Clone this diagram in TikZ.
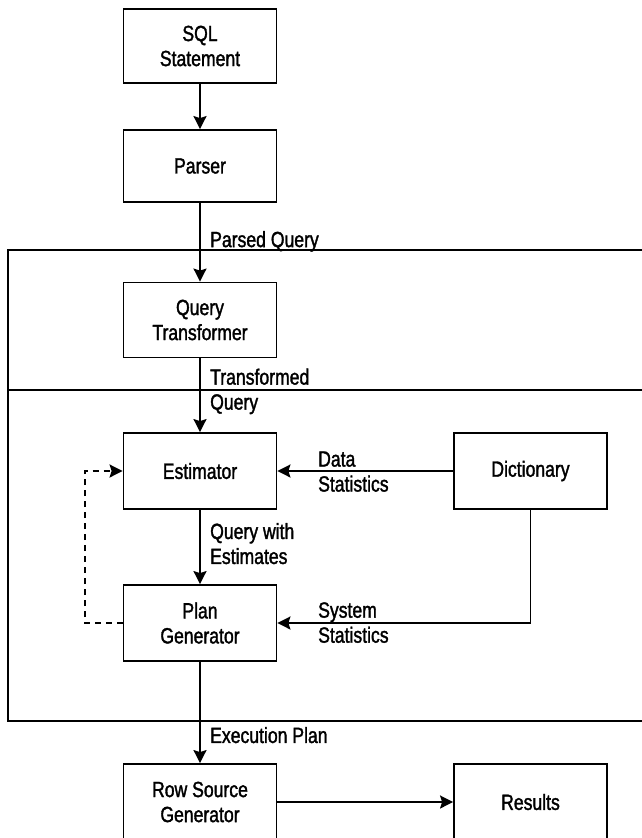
\documentclass[tikz,border=0pt]{standalone}
\usepackage{fontspec}
\setmainfont{Liberation Sans}[FakeStretch=0.80,FakeBold=1.5]
\usetikzlibrary{arrows.meta}
\begin{document}
\begin{tikzpicture}[x=1pt,y=-1pt,
  every node/.style={font=\fontsize{22}{25}\selectfont},
  stagebox/.style={draw,line width=1.8pt,minimum width=153pt,minimum height=76pt,
    align=center,inner sep=0pt},
  flow/.style={line width=1.8pt,-{Stealth[length=13pt,width=13pt,inset=2pt]}},
  note/.style={anchor=west,align=left,inner sep=0pt}]
\useasboundingbox (0,0) rectangle (642,838);
\fill[white] (0,0) rectangle (642,838);

% optimizer frame with the transformer section on top
\draw[line width=1.8pt] (8,250) rectangle (660,721);
\draw[line width=1.8pt] (8,390) -- (660,390);

% stages
\node[stagebox,minimum height=74pt] (sql) at (200,46) {SQL\\Statement};
\node[stagebox,minimum height=72pt] (parser) at (200,166) {Parser};
\node[stagebox,minimum height=75pt] (qt) at (200,320) {Query\\Transformer};
\node[stagebox] (est) at (200,471) {Estimator};
\node[stagebox] (dict) at (530.5,471) {Dictionary};
\node[stagebox] (plan) at (200,623) {Plan\\Generator};
\node[stagebox] (rsg) at (200,802) {Row Source\\Generator};
\node[stagebox] (res) at (530.5,802) {Results};

% data flow
\draw[flow] (sql) -- (parser);
\draw[flow] (parser) -- (qt);
\draw[flow] (qt) -- (est);
\draw[flow] (est) -- (plan);
\draw[flow] (dict) -- (est);
\draw[flow] (dict.south) |- (plan.east);
\draw[flow] (plan) -- (rsg);
\draw[flow] (rsg) -- (res);
\draw[flow,dash pattern=on 6pt off 5pt] (plan.west) -- ++(-38,0) |- (est.west);

% flow labels
\node[note] (lparsed) at (210,241.4) {Parsed Query};
\node[note] (ltrans) at (210,391.4) {Transformed\\Query};
\node[note] (lest) at (210,543.6) {Query with\\Estimates};
\node[note] (ldata) at (318,471.6) {Data\\Statistics};
\node[note] (lsys) at (318,622.6) {System\\Statistics};
\node[note] (lexec) at (210,735.1) {Execution Plan};
\end{tikzpicture}
\end{document}
